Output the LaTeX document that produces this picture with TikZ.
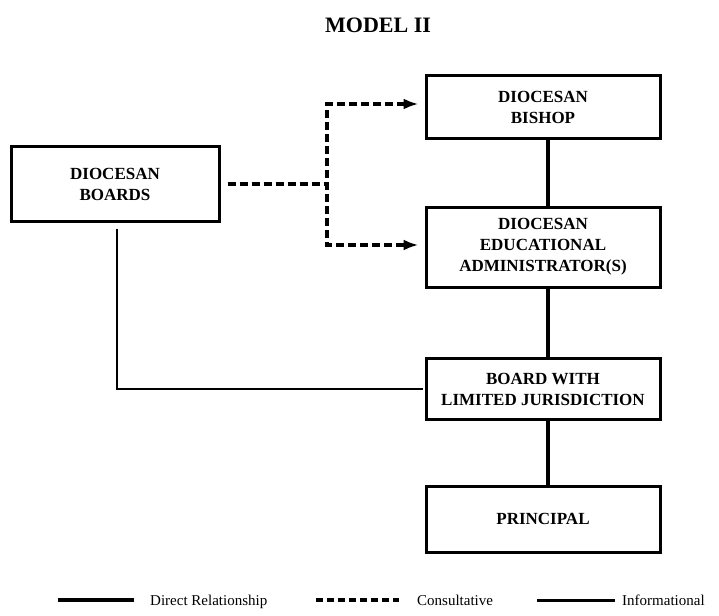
\documentclass[tikz,border=0pt]{standalone}
\usepackage{fontspec}
\setmainfont{Liberation Serif}
\usetikzlibrary{arrows.meta}
\begin{document}
\begin{tikzpicture}[x=1pt,y=-1pt,
  box/.style={draw,line width=3pt,inner sep=0pt,minimum width=234pt,align=center,
    font=\fontsize{17}{21}\selectfont\bfseries},
  direct/.style={line width=3.4pt},
  consult/.style={line width=3.4pt,dash pattern=on 8pt off 4pt},
  inform/.style={line width=2.8pt},
  key/.style={anchor=base west,inner sep=0pt,font=\fontsize{15}{18}\selectfont}]
\useasboundingbox (0,0) rectangle (719,615);

\node (title) at (378,25) {\fontsize{22}{26}\selectfont\bfseries MODEL II};

\node[box,minimum width=208pt,minimum height=75pt] (boards) at (115,184) {DIOCESAN\\BOARDS};
\node[box,minimum height=62pt] (bishop) at (543,107) {DIOCESAN\\BISHOP};
\node[box,minimum height=80pt] (admin) at (543,247) {DIOCESAN\\EDUCATIONAL\\ADMINISTRATOR(S)};
\node[box,minimum height=61pt] (limited) at (543,389) {BOARD WITH\\LIMITED JURISDICTION};
\node[box,minimum height=66pt] (principal) at (543,519) {PRINCIPAL};

\coordinate (split) at (327,184);
\coordinate (upper) at (327,104);
\coordinate (lower) at (327,245);

% consultative
\draw[consult,shorten <=7pt] (boards.east) -- (split);
\draw[consult,{Latex[length=15pt,width=11pt]}-{Latex[length=15pt,width=11pt]},shorten <=6pt,shorten >=6pt]
  (upper -| bishop.west) -- (upper) -- (lower) -- (lower -| admin.west);

% direct
\draw[direct] ([xshift=5pt]bishop.south) -- ([xshift=5pt]admin.north);
\draw[direct] ([xshift=5pt]admin.south) -- ([xshift=5pt]limited.north);
\draw[direct] ([xshift=5pt]limited.south) -- ([xshift=5pt]principal.north);

% informational
\draw[inform,shorten <=6pt,shorten >=2pt] ([xshift=2pt]boards.south) |- (limited.west);

% key
\node[key] (keydirect) at (150,605) {Direct Relationship};
\node[key] (keyconsult) at (417,605) {Consultative};
\node[key] (keyinform) at (622,605) {Informational};
\draw[direct,line width=4pt] ([xshift=-92pt,yshift=5pt]keydirect.base west) -- ([xshift=-16pt,yshift=5pt]keydirect.base west);
\draw[consult,dash pattern=on 7pt off 4pt] ([xshift=-101pt,yshift=5pt]keyconsult.base west) -- ([xshift=-18pt,yshift=5pt]keyconsult.base west);
\draw[inform,line width=3pt] ([xshift=-85pt,yshift=5pt]keyinform.base west) -- ([xshift=-7pt,yshift=5pt]keyinform.base west);
\end{tikzpicture}
\end{document}
